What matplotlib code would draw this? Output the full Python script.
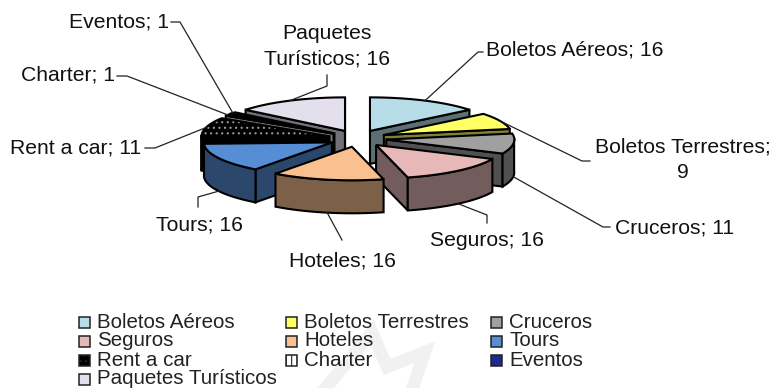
import numpy as np
import matplotlib
matplotlib.use('Agg')
import matplotlib.pyplot as plt
from matplotlib.patches import Polygon, Rectangle

plt.rcParams['font.family'] = ['Liberation Sans', 'DejaVu Sans']
plt.rcParams['hatch.linewidth'] = 0.8

# %% DATA
categories = ['Boletos Aéreos', 'Boletos Terrestres', 'Cruceros', 'Seguros', 'Hoteles',
              'Tours', 'Rent a car', 'Charter', 'Eventos', 'Paquetes Turísticos']
values = [16, 9, 11, 16, 16, 16, 11, 1, 1, 16]
top_colors = ['#B7DDE8', '#FFFF66', '#A0A0A0', '#E6B8B7', '#FAC090',
              '#558ED5', '#000000', '#FFFFFF', '#1F2A8C', '#E4DFEC']
hatches = [None, None, None, None, None, None, '...', '|||', None, None]

# label text, text position, bend of the leader line
labels = ['Boletos Aéreos; 16', 'Boletos Terrestres;\n9', 'Cruceros; 11', 'Seguros; 16', 'Hoteles; 16',
          'Tours; 16', 'Rent a car; 11', 'Charter; 1', 'Eventos; 1', 'Paquetes\nTurísticos; 16']
label_pos = [(575, 50), (683, 160), (675, 228), (487, 240), (342, 261),
             (199, 225), (76, 148), (68, 75), (119, 22), (327, 46)]
label_bend = [[(478, 52), (483, 52)], [(582, 161), (590, 161)], [(603, 227), (610, 227)], [(487, 215), (487, 223)],
              [(342, 240)], [(198, 197), (198, 207)], [(155, 148), (145, 148)], [(127, 76), (117, 76)],
              [(180, 22), (171, 22)], [(327, 86), (327, 75)]]

# %% PIE GEOMETRY (pixels)
cx, cy = 357.5, 138.5
radius = 128
squash = 0.262
explode = 29
depth = 33


def project(theta, r, off):
    return off[0] + r * np.sin(theta), off[1] - r * squash * np.cos(theta)


def shade(color, f=0.5):
    rgb = np.array(matplotlib.colors.to_rgb(color))
    return tuple(rgb * f)


fig = plt.figure(figsize=(7.74, 3.88), dpi=100)
ax = fig.add_axes([0, 0, 1, 1])
ax.set_xlim(0, 774)
ax.set_ylim(388, 0)
ax.axis('off')

# faint watermark behind the legend
ax.plot([320, 372, 387, 425, 410], [395, 332, 367, 352, 395], color='#F1F1F1', lw=9,
        solid_joinstyle='miter', zorder=0)

edges = np.cumsum([0] + values) / sum(values) * 2 * np.pi
slices = []
for i in range(len(values)):
    t1, t2 = edges[i], edges[i + 1]
    mid = (t1 + t2) / 2
    off = (cx + explode * np.sin(mid), cy - explode * 0.29 * np.cos(mid))
    slices.append((t1, t2, mid, off, i))

# back slices first
for t1, t2, mid, off, i in sorted(slices, key=lambda s: -np.cos(s[2])):
    col = top_colors[i]
    side = shade(col) if i not in (6, 7) else ('#000000' if i == 6 else '#777777')
    side_hatch_col = '#999999' if i == 6 else 'black'
    apex = np.array(off)
    down = np.array([0, depth])
    ts = np.linspace(t1, t2, 60)
    rim = np.array([project(t, radius, off) for t in ts])

    # radial walls facing the viewer
    for t, vis in ((t1, np.sin(t1) < -1e-6), (t2, np.sin(t2) > -1e-6)):
        if vis:
            p = np.array(project(t, radius, off))
            ax.add_patch(Polygon([apex, p, p + down, apex + down], fc=side, ec='black', lw=1.5))

    # outer rim, front half only
    front = rim[np.cos(ts) < 0.05]
    if len(front) > 1:
        quad = np.vstack([front, (front + down)[::-1]])
        if hatches[i]:
            ax.add_patch(Polygon(quad, fc=side, ec=side_hatch_col, hatch=hatches[i], lw=0))
            ax.add_patch(Polygon(quad, fill=False, ec='black', lw=1.5))
        else:
            ax.add_patch(Polygon(quad, fc=side, ec='black', lw=1.5))

    # top face
    pts = np.vstack([apex, rim])
    if hatches[i]:
        ax.add_patch(Polygon(pts, fc=col, ec=side_hatch_col, hatch=hatches[i], lw=0))
        ax.add_patch(Polygon(pts, fill=False, ec='black', lw=1.5))
    else:
        ax.add_patch(Polygon(pts, fc=col, ec='black', lw=1.5))

# %% LABELS AND LEADERS
for i, (t1, t2, mid, off, _) in enumerate(slices):
    start = project(mid, radius, off)
    if np.cos(mid) < 0:
        start = (start[0], start[1] + depth)
    line = [start] + label_bend[i]
    ax.plot([p[0] for p in line], [p[1] for p in line], color='#222222', lw=0.9)
    ax.text(label_pos[i][0], label_pos[i][1], labels[i], ha='center', va='center', fontsize=15.2,
            linespacing=1.45, color='#111111')

# %% LEGEND
legend_x = [79, 286, 491]
legend_y = [322, 341, 360, 379]
for i, name in enumerate(categories):
    r, c = i // 3, i % 3
    ax.add_patch(Rectangle((legend_x[c], legend_y[r] - 5.5), 11, 11, fc=top_colors[i], ec='#222222', lw=1.1,
                           hatch=hatches[i]))
    ax.text(legend_x[c] + 18, legend_y[r], name, ha='left', va='center', fontsize=14.8, color='#222222')

fig.savefig('out.png', dpi=100)
